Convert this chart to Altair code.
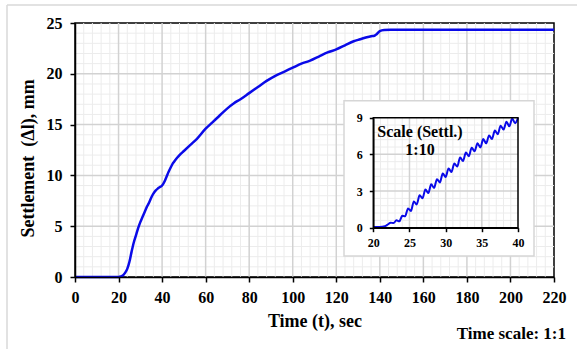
import altair as alt
import pandas as pd

# ---------------- data ----------------
main_t = [0, 10, 20, 21, 22, 23, 24, 25, 26, 27, 28, 29, 30, 31, 32, 33, 34, 35, 36, 37,
          38, 39, 40, 41, 42, 43, 44, 45, 46, 48, 50, 53, 56, 60, 63, 66, 70, 73, 76, 80,
          84, 88, 92, 96, 100, 104, 108, 112, 116, 120, 124, 128, 131, 134, 136, 137.5,
          138.5, 140, 142, 145, 220]
main_s = [0, 0, 0, 0.05, 0.15, 0.4, 0.8, 1.5, 2.5, 3.4, 4.1, 4.8, 5.4, 5.9, 6.4, 6.9, 7.3, 7.8, 8.2, 8.5,
          8.7, 8.85, 9.0, 9.35, 9.85, 10.35, 10.8, 11.2, 11.5, 12.0, 12.4, 13.0, 13.6, 14.6, 15.2, 15.8, 16.6, 17.1, 17.5, 18.1,
          18.7, 19.3, 19.8, 20.2, 20.6, 21.0, 21.3, 21.7, 22.1, 22.4, 22.8, 23.2, 23.4, 23.6, 23.7, 23.75,
          23.9, 24.2, 24.3, 24.33, 24.33]

inset_t = [20.0, 20.8, 21.6, 22.0, 22.4, 22.8, 23.2, 23.6, 24.0, 24.4, 24.8, 25.2, 25.6, 26.0, 26.4,
           26.8, 27.2, 27.6, 28.0, 28.4, 28.8, 29.2, 29.6, 30.0, 30.4, 30.8, 31.2, 31.6, 32.0, 32.4,
           32.8, 33.2, 33.6, 34.0, 34.4, 34.8, 35.2, 35.6, 36.0, 36.4, 36.8, 37.2, 37.6, 38.0, 38.4,
           38.8, 39.2, 39.6, 40.0]
inset_s = [0.05, 0.06, 0.12, 0.26, 0.41, 0.38, 0.60, 0.52, 0.97, 0.94, 1.58, 1.37, 2.15, 1.90, 2.65,
           2.40, 3.13, 2.83, 3.55, 3.25, 3.97, 3.70, 4.43, 4.15, 4.85, 4.55, 5.25, 5.00, 5.75, 5.45,
           6.15, 5.85, 6.55, 6.25, 6.90, 6.57, 7.25, 6.90, 7.55, 7.25, 7.95, 7.65, 8.35, 8.03, 8.67,
           8.30, 8.93, 8.55, 8.98]

main_x_ticks = [0, 20, 40, 60, 80, 100, 120, 140, 160, 180, 200, 220]
main_y_ticks = [0, 5, 10, 15, 20, 25]
main_major_x = [20, 40, 60, 80, 100, 120, 140, 160, 180, 200]
main_minor_x = [4, 8, 12, 16, 24, 28, 32, 36, 44, 48, 52, 56, 64, 68, 72, 76, 84, 88, 92, 96,
                104, 108, 112, 116, 124, 128, 132, 136, 144, 148, 152, 156, 164, 168, 172, 176,
                184, 188, 192, 196, 204, 208, 212, 216]
main_major_y = [5, 10, 15, 20]
main_minor_y = [1, 2, 3, 4, 6, 7, 8, 9, 11, 12, 13, 14, 16, 17, 18, 19, 21, 22, 23, 24]

inset_x_ticks = [20, 25, 30, 35, 40]
inset_y_ticks = [0, 3, 6, 9]
inset_major_x = [25, 30, 35]
inset_minor_x = [21, 22, 23, 24, 26, 27, 28, 29, 31, 32, 33, 34, 36, 37, 38, 39]
inset_major_y = [3, 6]
inset_minor_y = [0.6, 1.2, 1.8, 2.4, 3.6, 4.2, 4.8, 5.4, 6.6, 7.2, 7.8, 8.4]

x_title = "Time (t), sec"
y_title = "Settlement\u00a0 (\u0394l), mm"
inset_label_1 = "Scale (Settl.)"
inset_label_2 = "1:10"
time_scale_label = "Time scale: 1:1"

# ---------------- styling ----------------
W, H = 479, 254
FONT = "Liberation Serif"
BLUE = "#0a0ae8"
MAJOR = "#d2d2d2"
MINOR = "#ececec"

df_main = pd.DataFrame({"t": main_t, "s": main_s})
df_inset = pd.DataFrame({"t": inset_t, "s": inset_s})
one = pd.DataFrame({"k": [0]})


def xs_main():
    return alt.Scale(domain=[0, 220], nice=False, zero=False)


def ys_main():
    return alt.Scale(domain=[0, 25], nice=False, zero=False)


def xs_in():
    return alt.Scale(domain=[20, 40], range=[298.3, 443.0], nice=False, zero=False)


def ys_in():
    return alt.Scale(domain=[0, 9], range=[204.7, 94.7], nice=False, zero=False)


def vrules(vals, xscale, color, width, y0=None, y1=None, yscale=None):
    enc = dict(x=alt.X("v:Q", scale=xscale, axis=None))
    if y0 is not None:
        enc["y"] = alt.YDatum(y0, scale=yscale, axis=None)
        enc["y2"] = alt.Y2Datum(y1)
    return alt.Chart(pd.DataFrame({"v": vals})).mark_rule(color=color, strokeWidth=width).encode(**enc)


def hrules(vals, yscale, color, width, x0=None, x1=None, xscale=None):
    enc = dict(y=alt.Y("v:Q", scale=yscale, axis=None))
    if x0 is not None:
        enc["x"] = alt.XDatum(x0, scale=xscale, axis=None)
        enc["x2"] = alt.X2Datum(x1)
    return alt.Chart(pd.DataFrame({"v": vals})).mark_rule(color=color, strokeWidth=width).encode(**enc)


AX = dict(labelFont=FONT, titleFont=FONT, labelFontWeight="bold", titleFontWeight="bold",
          labelColor="black", titleColor="black", domainColor="black", domainWidth=1.5,
          tickColor="black", tickWidth=1.5, grid=False, labelFlush=False, labelOverlap=False)

main_line = alt.Chart(df_main).mark_line(color=BLUE, strokeWidth=2.5, interpolate="monotone").encode(
    x=alt.X("t:Q", scale=xs_main(), axis=alt.Axis(
        values=main_x_ticks, title=x_title, orient="bottom", zindex=1,
        labelFontSize=16, titleFontSize=18, tickSize=5, labelPadding=7.5,
        titleY=49, titleBaseline="alphabetic", **AX)),
    y=alt.Y("s:Q", scale=ys_main(), axis=alt.Axis(
        values=main_y_ticks, title=y_title, orient="left", zindex=1,
        labelFontSize=16, titleFontSize=18, tickSize=5, labelPadding=8,
        titleX=-42, titleY=135, titleAngle=-90, titleAlign="center",
        titleBaseline="alphabetic", **AX)),
)

inset_box = alt.Chart(one).mark_rect(fill="white", stroke="#d6d6d6", strokeWidth=1.5).encode(
    x=alt.value(269), x2=alt.value(459), y=alt.value(77.7), y2=alt.value(233)
)

inset_frame = alt.Chart(one).mark_rect(fillOpacity=0, stroke="black", strokeWidth=1.5).encode(
    x=alt.XDatum(20, scale=xs_in(), axis=None), x2=alt.X2Datum(40),
    y=alt.YDatum(0, scale=ys_in(), axis=None), y2=alt.Y2Datum(9),
)

inset_line = alt.Chart(df_inset).mark_line(color=BLUE, strokeWidth=2, interpolate="monotone").encode(
    x=alt.X("t:Q", scale=xs_in(), axis=alt.Axis(
        values=inset_x_ticks, title=None, orient="bottom", offset=-(H - 204.7), zindex=2,
        labelFontSize=12, tickSize=4, labelPadding=6, **AX)),
    y=alt.Y("s:Q", scale=ys_in(), axis=alt.Axis(
        values=inset_y_ticks, title=None, orient="left", offset=-298.3, zindex=2,
        labelFontSize=12, tickSize=4, labelPadding=7, **AX)),
)

txt1 = alt.Chart(one).mark_text(font=FONT, fontSize=16, fontWeight="bold", color="black",
                                align="center", baseline="middle").encode(
    x=alt.value(345), y=alt.value(108.7), text=alt.value(inset_label_1))
txt2 = alt.Chart(one).mark_text(font=FONT, fontSize=16, fontWeight="bold", color="black",
                                align="center", baseline="middle").encode(
    x=alt.value(345), y=alt.value(127), text=alt.value(inset_label_2))

frame_top = alt.Chart(one).mark_rule(color="#d9d9d9", strokeWidth=1.5).encode(
    x=alt.value(-68), x2=alt.value(502), y=alt.value(-18))
frame_left = alt.Chart(one).mark_rule(color="#d9d9d9", strokeWidth=1.5).encode(
    x=alt.value(-68), y=alt.value(-18), y2=alt.value(326))

ts_txt = alt.Chart(one).mark_text(font=FONT, fontSize=17, fontWeight="bold", color="black",
                                  align="right", baseline="alphabetic").encode(
    x=alt.value(491), y=alt.value(315.5), text=alt.value(time_scale_label))

chart = alt.layer(
    vrules(main_minor_x, xs_main(), MINOR, 1),
    hrules(main_minor_y, ys_main(), MINOR, 1),
    vrules(main_major_x, xs_main(), MAJOR, 1.5),
    hrules(main_major_y, ys_main(), MAJOR, 1.5),
    main_line,
    inset_box,
    vrules(inset_minor_x, xs_in(), MINOR, 1, 0, 9, ys_in()),
    hrules(inset_minor_y, ys_in(), MINOR, 1, 20, 40, xs_in()),
    vrules(inset_major_x, xs_in(), MAJOR, 1.5, 0, 9, ys_in()),
    hrules(inset_major_y, ys_in(), MAJOR, 1.5, 20, 40, xs_in()),
    inset_line,
    inset_frame,
    txt1,
    txt2,
    frame_top,
    frame_left,
    ts_txt,
).resolve_scale(
    x="independent", y="independent"
).properties(
    width=W, height=H,
    autosize=alt.AutoSizeParams(type="none"),
    padding={"left": 75, "top": 23, "right": 23, "bottom": 72},
    background="white",
).configure_view(
    stroke="black", strokeWidth=1.5
)

chart.save("out.html", embed_options={"renderer": "svg", "actions": False})
